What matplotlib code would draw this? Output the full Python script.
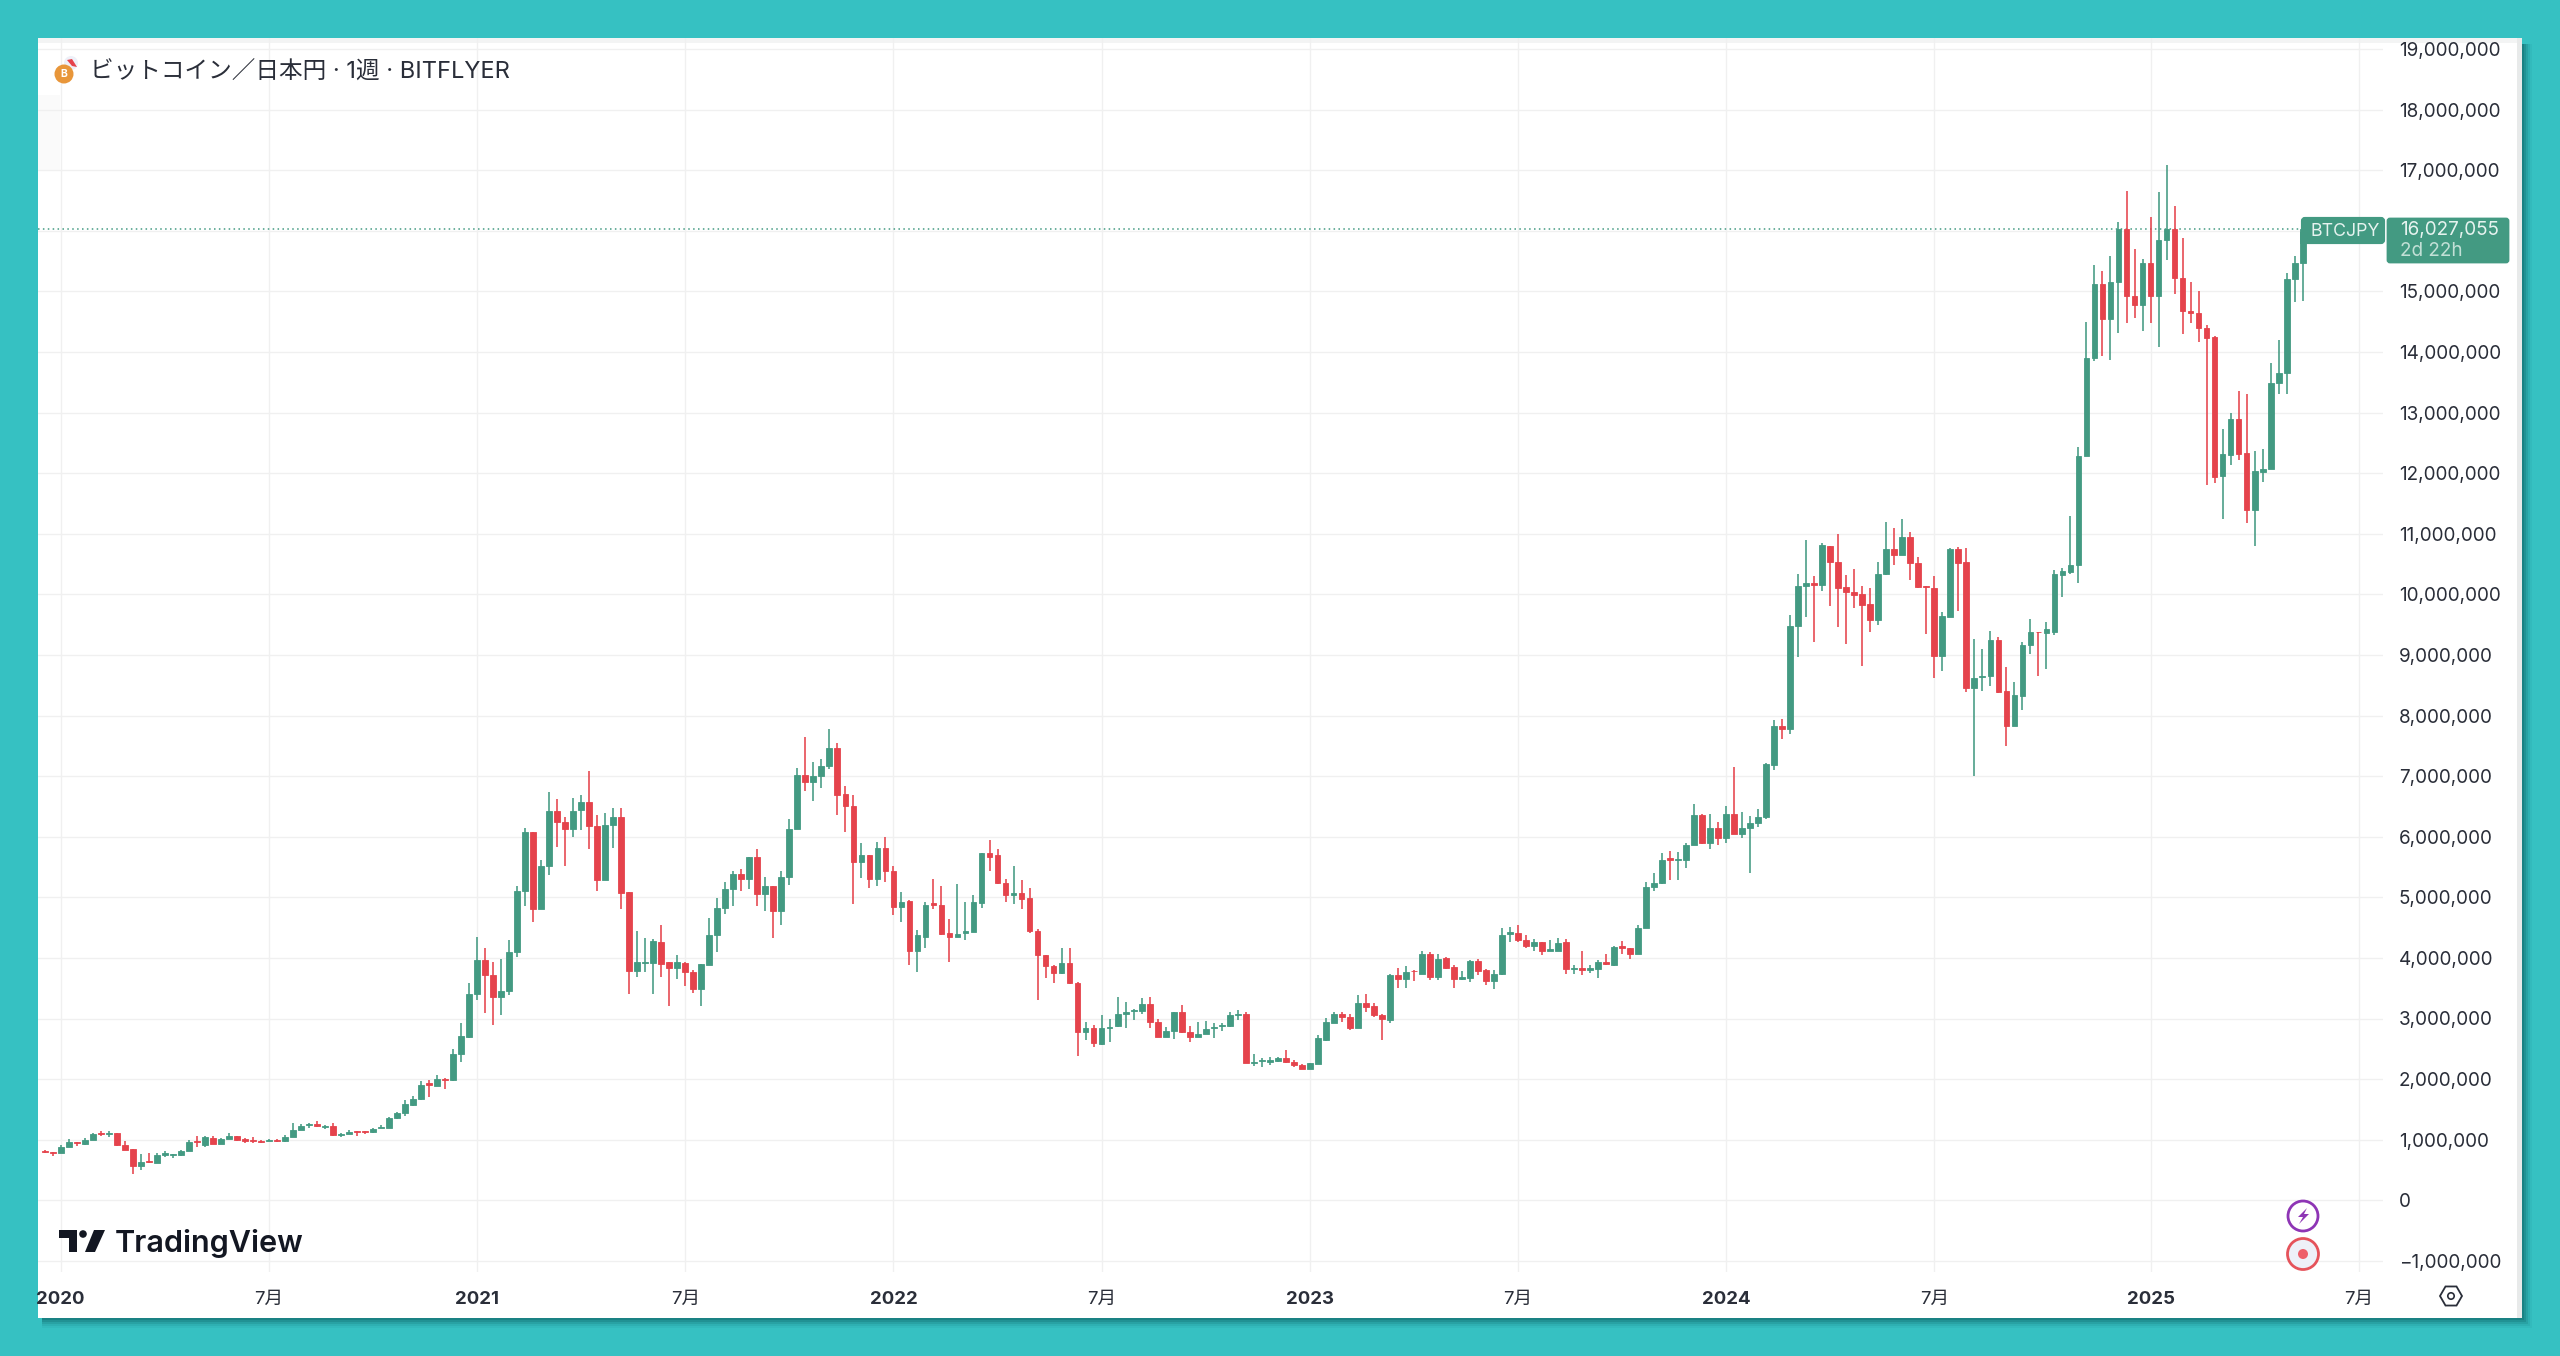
import numpy as np
import matplotlib
matplotlib.use("Agg")
import matplotlib.pyplot as plt
from matplotlib.patches import Rectangle, Circle, Polygon, RegularPolygon, FancyBboxPatch
from matplotlib.ticker import FuncFormatter

plt.rcParams['font.family'] = ['Inter', 'Noto Sans CJK JP', 'DejaVu Sans']

# weekly candles, million JPY
opens = [
 .82,.803,.787,.886,.963,.924,.996,1.117,1.10,1.106,.913,.842,.572,.649,.622,.754,.748,.748,.82,.979,.919,1.034,.935,1.018,1.062,1.007,1.001,.979,.985,.996,.974,1.051,1.166,1.238,1.265,1.21,1.232,1.084,1.089,1.144,1.144,1.122,1.199,1.199,1.353,1.436,1.573,1.667,1.931,1.892,2.002,1.98,2.42,
 2.70,3.40,3.97,3.71,3.35,3.46,4.10,5.10,6.08,4.81,
 5.51,6.43,6.25,6.12,6.44,6.57,6.18,5.29,6.20,6.32,
 5.09,3.78,3.91,3.91,4.27,3.93,3.83,3.92,3.77,3.49,
 3.89,4.37,4.82,5.14,5.38,5.31,5.66,5.05,5.19,4.77,
 5.34,6.13,7.01,6.91,7.00,7.16,7.46,6.70,6.51,5.59,
 5.69,5.30,
 5.81,5.44,4.84,4.94,4.12,4.35,4.91,4.87,
 4.41,4.35,4.41,4.43,4.91,5.73,5.70,5.24,5.03,5.07,
 4.99,4.45,4.05,3.87,3.75,3.91,3.59,2.78,2.84,2.58,
 2.84,2.87,3.07,3.12,3.12,
 3.24,2.95,2.70,2.80,3.11,
 2.78,2.69,2.75,2.84,2.87,2.87,3.05,3.07,2.27,2.30,
 2.29,2.30,2.34,2.29,2.23,2.17,2.25,2.65,2.92,3.08,
 3.03,2.85,3.26,3.21,3.06,2.98,3.71,3.66,3.79,3.73,
 4.06,3.69,4.00,3.85,3.65,3.67,3.95,3.80,3.62,3.73,
 4.39,4.41,4.30,4.19,4.26,
 4.12,4.12,4.26,3.81,3.83,
 3.80,3.81,3.94,3.89,4.19,4.17,4.06,4.49,5.17,5.23,
 5.65,5.61,5.61,5.86,6.36,5.89,6.14,5.98,6.38,6.04,
 6.15,6.22,6.32,7.19,7.82,
 7.77,9.47,10.13,10.19,10.15,
 10.80,10.53,10.12,10.04,10.00,9.84,9.58,10.33,10.75,10.65,
 10.94,10.52,10.14,10.11,8.98,9.63,10.74,10.53,8.45,8.63,
 8.65,9.25,8.40,7.82,8.33,9.16,9.38,9.36,9.38,10.32,
 10.37,
 10.49,12.29,13.90,15.12,14.55,15.15,16.03,14.93,14.78,
 15.46,14.93,15.84,16.03,15.22,14.68,14.65,14.40,14.24,11.95,
 12.30,12.89,12.33,11.39,12.02,12.07,13.49,13.66,15.20,15.47,
]
closes = [
 .803,.787,.886,.957,.941,.996,1.095,1.095,1.117,.908,.831,.567,.638,.627,.743,.776,.765,.814,.957,.957,1.04,.935,1.018,1.067,.99,.985,.985,.968,1.001,.979,1.051,1.161,1.232,1.26,1.227,1.227,1.078,1.10,1.133,1.128,1.128,1.183,1.216,1.353,1.436,1.595,1.667,1.909,1.909,2.008,1.986,2.42,2.712,
 3.41,3.97,3.71,3.35,3.46,4.10,5.10,6.08,4.81,5.51,
 6.42,6.25,6.12,6.43,6.57,6.18,5.29,6.20,6.32,5.07,
 3.78,3.93,3.94,4.28,3.90,3.83,3.93,3.77,3.49,3.90,
 4.37,4.82,5.14,5.38,5.30,5.66,5.05,5.19,4.77,5.34,
 6.13,7.02,6.91,7.00,7.17,7.46,6.69,6.51,5.59,5.69,
 5.30,5.81,
 5.43,4.84,4.93,4.12,4.37,4.88,4.88,4.39,
 4.34,4.40,4.44,4.92,5.73,5.67,5.23,5.03,5.07,4.98,
 4.44,4.04,3.87,3.75,3.91,3.58,2.78,2.84,2.59,2.84,
 2.86,3.08,3.11,3.14,3.24,
 2.94,2.70,2.80,3.11,2.77,
 2.69,2.75,2.83,2.86,2.89,3.05,3.07,2.27,2.29,2.32,
 2.31,2.34,2.28,2.23,2.17,2.26,2.68,2.94,3.08,3.02,
 2.85,3.25,3.19,3.05,2.99,3.71,3.66,3.76,3.78,4.06,
 3.69,3.99,3.84,3.65,3.68,3.95,3.79,3.62,3.73,4.37,
 4.42,4.29,4.19,4.27,4.12,
 4.14,4.25,3.81,3.83,3.80,
 3.83,3.93,3.90,4.18,4.17,4.06,4.49,5.17,5.24,5.62,
 5.62,5.63,5.86,6.35,5.89,6.14,5.98,6.38,6.04,6.15,
 6.22,6.33,7.20,7.83,7.77,
 9.47,10.14,10.19,10.15,10.81,
 10.53,10.11,10.03,9.99,9.83,9.58,10.34,10.75,10.65,10.94,
 10.52,10.12,10.12,8.98,9.64,10.74,10.52,8.45,8.62,8.65,
 9.25,8.39,7.82,8.34,9.16,9.37,9.37,9.42,10.33,10.39,
 10.49,
 12.29,13.90,15.12,14.55,15.16,16.03,14.93,14.78,15.46,
 14.93,15.85,16.03,15.22,14.67,14.65,14.40,14.23,11.93,12.32,
 12.89,12.32,11.39,12.03,12.07,13.49,13.66,15.20,15.47,16.027,
]
highs = [
 .836,.803,.908,1.007,.968,1.029,1.106,1.144,1.144,1.117,.974,.847,.765,.776,.776,.82,.77,.825,.996,1.067,1.062,1.067,1.034,1.106,1.067,1.023,1.04,.99,1.018,1.007,1.078,1.282,1.254,1.271,1.315,1.238,1.282,1.117,1.161,1.15,1.144,1.194,1.238,1.381,1.458,1.656,1.722,1.969,1.991,2.068,2.024,2.497,2.932,
 3.58,4.35,4.16,3.93,3.99,4.30,5.19,6.14,6.08,5.62,
 6.73,6.62,6.33,6.64,6.68,7.08,6.35,6.39,6.47,6.48,
 5.09,4.45,4.33,4.31,4.55,3.94,4.04,3.93,3.80,3.90,
 4.66,4.99,5.25,5.43,5.47,5.67,5.80,5.34,5.19,5.43,
 6.30,7.13,7.65,7.24,7.29,7.78,7.54,6.84,6.69,5.89,
 5.69,5.92,
 6.00,5.51,5.09,4.95,4.46,4.92,5.31,5.18,
 4.65,5.22,4.93,5.04,5.73,5.95,5.79,5.30,5.51,5.28,
 5.15,4.48,4.05,3.89,4.16,4.17,3.61,2.95,2.90,3.05,
 2.99,3.36,3.28,3.15,3.34,
 3.36,2.99,2.86,3.11,3.23,
 2.88,2.94,2.96,2.92,2.92,3.11,3.14,3.11,2.42,2.35,
 2.37,2.36,2.48,2.31,2.25,2.26,2.72,3.01,3.11,3.11,
 3.07,3.38,3.40,3.25,3.08,3.74,3.83,3.86,3.80,4.11,
 4.09,4.07,4.01,3.88,3.79,3.97,3.99,3.82,3.80,4.50,
 4.51,4.54,4.38,4.31,4.27,
 4.29,4.33,4.32,3.89,4.12,
 3.89,3.97,4.07,4.20,4.28,4.17,4.54,5.26,5.40,5.73,
 5.76,5.74,5.90,6.54,6.37,6.37,6.24,6.50,7.15,6.41,
 6.34,6.46,7.22,7.92,7.95,
 9.66,10.34,10.89,10.30,10.85,
 10.80,11.00,10.32,10.42,10.13,10.10,10.53,11.20,11.09,11.25,
 11.02,10.62,10.14,10.31,9.71,10.76,10.78,10.77,9.27,9.09,
 9.40,9.29,8.80,8.55,9.21,9.60,9.38,9.55,10.40,10.44,
 11.29,
 12.43,14.50,15.43,15.33,15.59,16.14,16.66,15.70,15.54,
 16.23,16.64,17.08,16.41,15.88,15.15,15.00,14.44,14.26,12.73,
 13.00,13.35,13.30,12.36,12.39,13.81,14.19,15.30,15.58,16.03,
]
lows = [
 .776,.737,.781,.88,.902,.919,.996,1.067,1.04,.902,.825,.44,.506,.616,.616,.721,.704,.732,.814,.886,.88,.93,.93,1.012,.985,.946,.952,.952,.974,.963,.968,1.045,1.161,1.188,1.216,1.172,1.062,1.04,1.089,1.067,1.095,1.117,1.188,1.194,1.348,1.386,1.557,1.661,1.70,1.887,1.837,1.975,2.277,
 2.68,3.31,3.09,2.90,3.05,3.38,4.01,4.85,4.60,4.81,
 5.36,5.83,5.51,6.00,6.11,5.80,5.10,5.28,5.82,4.81,
 3.40,3.69,3.77,3.40,3.68,3.20,3.66,3.53,3.42,3.21,
 3.89,4.10,4.72,4.85,5.10,5.13,4.86,4.78,4.33,4.55,
 5.20,6.12,6.76,6.59,6.81,7.12,6.35,6.07,4.89,5.32,
 5.16,5.18,
 5.26,4.70,4.59,3.88,3.76,4.16,4.81,4.37,
 3.94,4.34,4.30,4.43,4.83,5.43,5.22,4.92,4.89,4.81,
 4.41,3.30,3.67,3.58,3.74,3.57,2.38,2.65,2.53,2.57,
 2.61,2.86,2.84,2.97,3.07,
 2.84,2.69,2.69,2.66,2.76,
 2.62,2.69,2.74,2.68,2.80,2.86,2.97,2.27,2.22,2.20,
 2.24,2.29,2.26,2.20,2.16,2.16,2.25,2.63,2.92,2.94,
 2.81,2.84,3.11,3.02,2.65,2.92,3.51,3.50,3.62,3.73,
 3.64,3.63,3.82,3.51,3.64,3.61,3.71,3.56,3.49,3.72,
 4.27,4.27,4.17,4.12,4.04,
 4.12,4.11,3.73,3.73,3.72,
 3.75,3.67,3.89,3.87,4.06,3.98,4.06,4.49,5.10,5.22,
 5.28,5.29,5.48,5.86,5.88,5.80,5.87,5.89,6.04,5.98,
 5.40,6.16,6.29,7.10,7.61,
 7.69,8.97,9.62,9.21,10.05,
 9.80,9.46,9.18,9.78,8.82,9.37,9.49,10.32,10.49,10.65,
 10.23,10.11,9.35,8.62,8.74,9.62,9.72,8.38,7.00,8.40,
 8.48,8.37,7.50,7.82,8.09,9.01,8.66,8.77,9.33,9.96,
 10.34,
 10.19,12.29,13.85,13.93,13.87,14.31,14.48,14.56,14.34,
 14.47,14.08,15.51,14.95,14.30,14.48,14.17,11.80,11.83,11.25,
 12.14,12.21,11.18,10.79,11.85,12.06,13.30,13.31,14.83,14.84,
]
first_week = -2
time_ticks = [0, 26, 52, 78, 104, 130, 156, 182, 208, 234, 261, 287]
time_labels = ['2020', '7月', '2021', '7月', '2022', '7月', '2023', '7月', '2024', '7月', '2025', '7月']
price_ticks = list(range(-1, 20))
last_price = 16.027055
title = 'ビットコイン／日本円 · 1週 · BITFLYER'

GREEN, RED = '#439A82', '#E5434C'
TEAL, GRID, INK = '#36C1C2', '#F0F0F0', '#2A2E39'
W, H = 2560, 1356

o, h, l, c = [np.array(a) * 1e6 for a in (opens, highs, lows, closes)]
weeks = np.arange(first_week, first_week + len(o))
colors = np.where(c >= o, GREEN, RED)

fig = plt.figure(figsize=(W / 100, H / 100), dpi=100, facecolor=TEAL)

# panel layer, in pixels
bg = fig.add_axes([0, 0, 1, 1], zorder=0)
bg.set_xlim(0, W); bg.set_ylim(H, 0); bg.axis('off')
for d, a in ((10, .06), (8, .10), (6, .16), (4, .22), (2, .28)):
    bg.add_patch(Rectangle((42, 44), 2480 + d, 1274 + d, fc='#0B5A5C', ec='none', alpha=a))
bg.add_patch(Rectangle((38, 38), 2484, 1280, fc='white', ec='none'))
bg.add_patch(Rectangle((2517, 38), 5, 1280, fc='#E8EAEA', ec='none'))
bg.add_patch(Rectangle((38, 38), 2479, 5, fc='#F3F4F4', ec='none'))
bg.add_patch(Rectangle((38, 95), 22, 75, fc='#FAFAFA', ec='none'))

# chart
x0, x1, ytop, ybot = 38, 2383, 38, 1272
ax = fig.add_axes([x0 / W, 1 - ybot / H, (x1 - x0) / W, (ybot - ytop) / H], zorder=1)
ax.patch.set_alpha(0)
ax.set_xlim((x0 - 60.7) / 8.007, (x1 - 60.7) / 8.007)
ax.set_ylim((1200.3 - ybot) / 60.6 * 1e6, (1200.3 - ytop) / 60.6 * 1e6)
for s in ax.spines.values():
    s.set_visible(False)
ax.set_axisbelow(True)
ax.grid(True, color=GRID, lw=1.0)
ax.yaxis.tick_right()
ax.set_yticks([p * 1e6 for p in price_ticks])
ax.yaxis.set_major_formatter(FuncFormatter(lambda v, _: f'{v:,.0f}'.replace('-', '\u2212')))
ax.set_xticks(time_ticks)
ax.set_xticklabels(time_labels)
ax.tick_params(axis='y', length=0, pad=11.5, labelsize=13.6, labelcolor=INK)
ax.tick_params(axis='x', length=0, pad=13.5, labelsize=13.4, labelcolor=INK)
for lbl, txt in zip(ax.get_xticklabels(), time_labels):
    if txt.isdigit():
        lbl.set_fontweight('bold')

ax.vlines(weeks, l, h, colors=colors, lw=1.15, zorder=2)
ax.bar(weeks, c - o, bottom=o, width=0.72, color=colors, edgecolor=colors, lw=0.6, zorder=3)
ax.hlines(last_price * 1e6, ax.get_xlim()[0], weeks[-1], colors=GREEN, lw=1.1,
          linestyles=(0, (1, 2.2)), zorder=1)

# overlay, in pixels
ov = fig.add_axes([0, 0, 1, 1], zorder=2)
ov.set_xlim(0, W); ov.set_ylim(H, 0); ov.axis('off'); ov.patch.set_alpha(0)

# title & icon
ov.add_patch(Circle((71, 63), 7, fc='#EEF0F8', ec='none'))
ov.add_patch(Polygon([(67, 60), (72, 59), (77, 67), (72, 66)], fc='#E5434C', ec='none'))
ov.add_patch(Circle((64, 74), 9.5, fc='#E8963A', ec='none'))
ov.text(64, 74, 'B', color='white', fontsize=7.5, ha='center', va='center', fontweight='bold')
ov.text(90, 72.5, title, color=INK, fontsize=17, ha='left', va='center',
        family=['Inter', 'Noto Sans CJK JP', 'DejaVu Sans'])

# price labels
ov.add_patch(FancyBboxPatch((2303, 219), 80, 23, boxstyle='round,pad=0,rounding_size=2', fc=GREEN, ec=GREEN, lw=3))
ov.add_patch(Rectangle((2299.5, 232), 7, 12, fc=GREEN, ec='none'))
ov.add_patch(FancyBboxPatch((2388, 219), 120, 43, boxstyle='round,pad=0,rounding_size=2', fc=GREEN, ec=GREEN, lw=2))
ov.text(2310, 231, 'BTCJPY', color='#E6F3EF', fontsize=12.8, ha='left', va='center')
ov.text(2400, 230, f'{last_price * 1e6:,.0f}', color='#E6F3EF', fontsize=13.6, ha='left', va='center')
ov.text(2400, 251, '2d 22h', color='#C2E0D6', fontsize=13.6, ha='left', va='center')

# watermark
ov.add_patch(Polygon([(59, 1230), (77, 1230), (77, 1252), (69, 1252), (69, 1238), (59, 1238)], fc='#131722', ec='none'))
ov.add_patch(Circle((83, 1234), 3.8, fc='#131722', ec='none'))
ov.add_patch(Polygon([(94, 1230), (105, 1230), (95, 1252), (85, 1252)], fc='#131722', ec='none'))
ov.text(115, 1244, 'TradingView', color='#131722', fontsize=22, fontweight='semibold', ha='left', va='center')

# icons
ov.add_patch(Circle((2303, 1216), 15, fc='white', ec='#8E35B5', lw=2))
ov.add_patch(Polygon([(2307, 1208), (2298, 1217), (2303, 1217), (2299, 1224), (2309, 1214), (2304, 1214)], fc='#8E35B5', ec='none'))
ov.add_patch(Circle((2303, 1254), 15.5, fc='#EEF0F8', ec='#E5535B', lw=2))
ov.add_patch(Circle((2303, 1254), 5, fc='#EE5F6A', ec='none'))
ov.add_patch(RegularPolygon((2451, 1296), 6, radius=11, orientation=np.pi / 6, fc='none', ec=INK, lw=1.3))
ov.add_patch(Circle((2451, 1296), 3.2, fc='none', ec=INK, lw=1.2))

fig.savefig('out.png', dpi=100, facecolor=TEAL)
